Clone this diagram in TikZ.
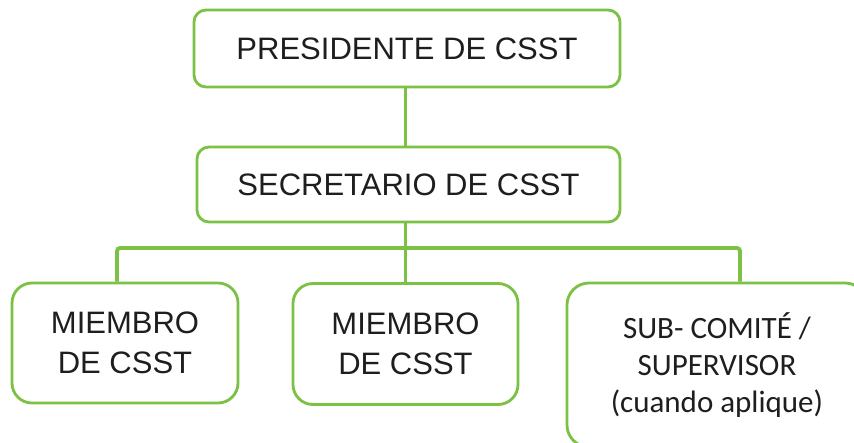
\documentclass[tikz,border=0pt]{standalone}
\usepackage{fontspec}
\newfontfamily\arialf{Liberation Sans}
\newfontfamily\calibrif{Carlito}
\definecolor{orggreen}{HTML}{7BC144}
\definecolor{txtcol}{HTML}{1E1E1E}
\tikzset{
  box/.style={draw=orggreen, line width=2.8pt, fill=white, rectangle, align=center,
    text=txtcol, inner sep=0pt},
  topbox/.style={box, rounded corners=12pt, font=\arialf\fontsize{31}{40}\selectfont},
  lowbox/.style={box, rounded corners=20pt, font=\arialf\fontsize{31}{40}\selectfont},
  subbox/.style={box, rounded corners=22pt, font=\calibrif\fontsize{31}{37}\selectfont},
  conn/.style={draw=orggreen, line width=3.8pt, rounded corners=3pt}
}
\begin{document}
\begin{tikzpicture}[x=1pt,y=-1pt]
\useasboundingbox (0,0) rectangle (854,442);
\clip (0,0) rectangle (854,442);
\fill[white] (0,0) rectangle (854,442);
\coordinate (barL) at (117,248);
\coordinate (barR) at (740,248);
% connectors first (behind boxes)
\node[topbox, minimum width=426pt, minimum height=77pt] (pres) at (407,48.5) {PRESIDENTE DE CSST};
\node[topbox, minimum width=423pt, minimum height=75pt] (sec) at (408.5,184.5) {SECRETARIO DE CSST};
\node[lowbox, minimum width=226pt, minimum height=120pt] (m1) at (125,343) {MIEMBRO\\DE CSST};
\node[lowbox, minimum width=225pt, minimum height=121pt] (m2) at (405.5,344) {MIEMBRO\\DE CSST};
\node[subbox, minimum width=300pt, minimum height=164pt] (sub) at (717,365) {SUB- COMITÉ /\\SUPERVISOR\\(cuando aplique)};
\begin{scope}[on background layer/.try]
\end{scope}
\draw[conn] (pres.south -| m2.north) -- (sec.north -| m2.north);
\draw[conn] (sec.south -| m2.north) -- (m2.north);
\draw[conn] (m1.north -| barL) -- (barL) -- (barR) -- (sub.north -| barR);
\end{tikzpicture}
\end{document}
